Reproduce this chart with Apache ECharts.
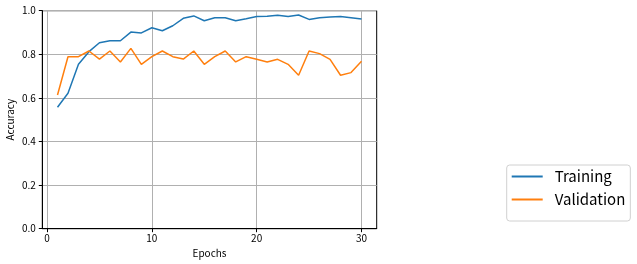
<!DOCTYPE html>
<html>
<head>
<meta charset="utf-8">
<script src="https://cdn.jsdelivr.net/npm/echarts@6/dist/echarts.min.js"></script>
<style>html,body{margin:0;padding:0;background:#fff;}#c{width:637px;height:264px;}</style>
</head>
<body>
<div id="c"></div>
<script>
const epochs = [1,2,3,4,5,6,7,8,9,10,11,12,13,14,15,16,17,18,19,20,21,22,23,24,25,26,27,28,29,30];
const training = [0.557,0.621,0.754,0.812,0.853,0.862,0.862,0.902,0.898,0.922,0.908,0.931,0.965,0.976,0.954,0.968,0.968,0.954,0.963,0.973,0.974,0.979,0.973,0.980,0.960,0.968,0.971,0.973,0.968,0.962];
const validation = [0.613,0.789,0.789,0.815,0.778,0.815,0.765,0.827,0.754,0.789,0.815,0.789,0.778,0.815,0.754,0.789,0.815,0.765,0.789,0.777,0.765,0.777,0.754,0.704,0.815,0.803,0.777,0.704,0.716,0.768];
const xTicks = [0,10,20,30];
const seriesNames = ['Training','Validation'];

// matplotlib-style 5% margin: axis spans -0.45 .. 31.45; shift so the axis min is 0
const X_OFF = 0.45;
const FONT = '"Noto Sans CJK JP", "DejaVu Sans", sans-serif';
const chart = echarts.init(document.getElementById('c'), null, {renderer:'canvas'});
chart.setOption({
  animation:false,
  color:['#1f77b4','#ff7f0e'],
  grid:{left:42.3,right:260.3,top:10.7,bottom:35.3,show:true,borderColor:'#000',borderWidth:1,backgroundColor:'transparent',containLabel:false,outerBoundsMode:'none'},
  legend:{
    orient:'vertical',left:506.7,top:165,
    data:seriesNames.map(n=>({name:n,icon:'rect'})),
    itemWidth:31,itemHeight:2,itemGap:8,
    padding:[4,5,14,5],
    borderColor:'#d0d0d0',borderWidth:1,borderRadius:3,
    textStyle:{fontFamily:FONT,fontSize:15,color:'#000',padding:[0,0,0,7]}
  },
  xAxis:{
    type:'value',min:0,max:31.9,
    name:'Epochs',nameLocation:'middle',nameGap:20,nameMoveOverlap:false,
    nameTextStyle:{fontFamily:FONT,fontSize:10,color:'#000'},
    axisLine:{show:true,onZero:false,lineStyle:{color:'#000',width:1}},
    axisTick:{show:true,length:3.5,customValues:xTicks.map(t=>t+X_OFF),lineStyle:{color:'#000'}},
    axisLabel:{customValues:xTicks.map(t=>t+X_OFF),margin:5,fontFamily:FONT,fontSize:10,color:'#000',formatter:v=>String(Math.round(v-X_OFF))},
    splitLine:{show:true,lineStyle:{color:'#b0b0b0',width:1}}
  },
  yAxis:{
    type:'value',min:0,max:1,interval:0.2,
    name:'Accuracy',nameLocation:'middle',nameGap:27,nameRotate:90,nameMoveOverlap:false,
    nameTextStyle:{fontFamily:FONT,fontSize:10,color:'#000'},
    axisLine:{show:true,lineStyle:{color:'#000',width:1}},
    axisTick:{show:true,length:3.5,lineStyle:{color:'#000'}},
    axisLabel:{margin:6.5,fontFamily:FONT,fontSize:10,color:'#000',formatter:v=>v.toFixed(1)},
    splitLine:{show:true,lineStyle:{color:'#b0b0b0',width:1}}
  },
  series:[
    {name:seriesNames[0],type:'line',data:epochs.map((e,i)=>[e+X_OFF,training[i]]),showSymbol:false,lineStyle:{width:1.5},itemStyle:{color:'#1f77b4'}},
    {name:seriesNames[1],type:'line',data:epochs.map((e,i)=>[e+X_OFF,validation[i]]),showSymbol:false,lineStyle:{width:1.5},itemStyle:{color:'#ff7f0e'}}
  ]
});
</script>
</body>
</html>
